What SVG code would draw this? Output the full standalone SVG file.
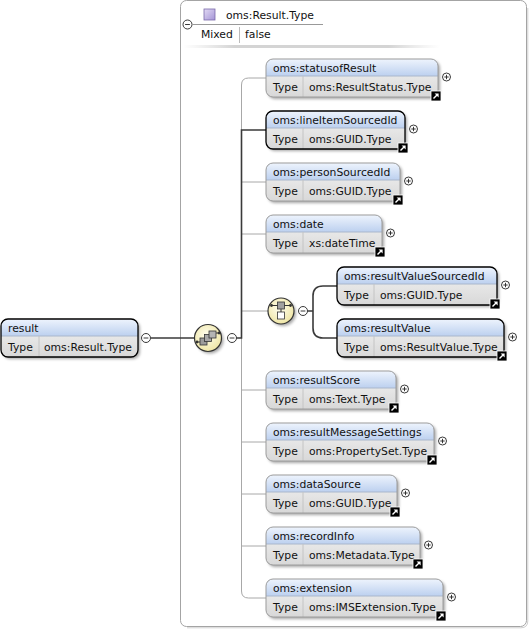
<svg xmlns="http://www.w3.org/2000/svg" xmlns:xlink="http://www.w3.org/1999/xlink" width="529" height="629" viewBox="0 0 529 629">
<style>
.t{font-family:"DejaVu Sans",Verdana,sans-serif;font-size:10.8px;fill:#111}
.body{fill:url(#gBody)}
.hdr{fill:url(#gHdr)}
.bo{fill:none;stroke:#9c9c9c;stroke-width:1}
.br{fill:none;stroke:#000;stroke-width:1.3}
.sep{stroke:#aab7cc;stroke-width:1}
.vsep{stroke:#c4c4c4;stroke-width:1}
.shd{fill:#000;opacity:.35;filter:url(#blur)}
.cg{fill:none;stroke:#a8a8a8;stroke-width:1}
.cd{fill:none;stroke:#3a3a3a;stroke-width:1.6}
.comp{fill:url(#gComp);stroke:#333;stroke-width:1.2}
</style>
<defs>
<linearGradient id="gBody" x1="0" y1="0" x2="0" y2="1"><stop offset="0" stop-color="#f4f4f4"/><stop offset="1" stop-color="#d8d8d8"/></linearGradient>
<linearGradient id="gHdr" x1="0" y1="0" x2="0" y2="1"><stop offset="0" stop-color="#eef4fd"/><stop offset="1" stop-color="#bcd0ef"/></linearGradient>
<radialGradient id="gComp" cx="0.45" cy="0.4" r="0.6"><stop offset="0" stop-color="#fffef0"/><stop offset="1" stop-color="#efe6a6"/></radialGradient>
<linearGradient id="gPur" x1="0" y1="0" x2="1" y2="1"><stop offset="0" stop-color="#e2daf4"/><stop offset="1" stop-color="#a494d6"/></linearGradient>
<linearGradient id="gBar" x1="0" y1="0" x2="1" y2="0"><stop offset="0" stop-color="#ddd" stop-opacity="0"/><stop offset="0.2" stop-color="#d4d4d4"/><stop offset="0.8" stop-color="#d4d4d4"/><stop offset="1" stop-color="#ddd" stop-opacity="0"/></linearGradient>
<filter id="blur" x="-10%" y="-20%" width="120%" height="140%"><feGaussianBlur stdDeviation="1.4"/></filter>
<g id="plus"><circle r="4" fill="#fff" stroke="#222" stroke-width="0.9"/><path d="M-2.2,0H2.2M0,-2.2V2.2" stroke="#222" stroke-width="0.9"/></g>
<g id="minus"><circle r="4.5" fill="#fff" stroke="#222" stroke-width="0.9"/><path d="M-2.4,0H2.4" stroke="#222" stroke-width="0.9"/></g>
<g id="icon"><rect x="0" y="0" width="10" height="10" fill="#000" stroke="#fff" stroke-width="0.8"/><path d="M2.5,7.5L6.5,3.5" stroke="#fff" stroke-width="1.4"/><polygon points="3.6,2.4 7.6,2.4 7.6,6.4" fill="#fff"/></g>
</defs>

<g id="typebox">
<rect x="180.5" y="0.5" width="346" height="626" rx="6" fill="#fff" stroke="#a4a4a4"/>
<path d="M527.8,8V621Q527.8,627.8 521,627.8H187" fill="none" stroke="#d0d0d0"/>
<rect x="204" y="9" width="11" height="11" fill="url(#gPur)" stroke="#7a6aaa" stroke-width="0.8"/>
<text class="t" x="226" y="19">oms:Result.Type</text>
<use xlink:href="#minus" x="187.5" y="24.5"/>
<path d="M192,24.5H323" stroke="#999"/>
<text class="t" x="201" y="38">Mixed</text>
<path d="M239.5,27V43" stroke="#bbb"/>
<text class="t" x="245" y="38">false</text>
<rect x="183" y="45" width="257" height="3" fill="url(#gBar)"/>
</g>

<g id="connectors">
<path class="cg" d="M266,78H248.5Q241.5,78 241.5,85V591Q241.5,598 248.5,598H266"/>
<path class="cg" d="M241.5,182H266M241.5,234H266M241.5,311H268M241.5,390H266M241.5,442H266M241.5,494H266M241.5,546H266"/>
<path class="cd" d="M151,338H194"/>
<path class="cd" d="M236.5,338H241.5V130H266"/>
<path class="cd" d="M307.5,311H313M337,286H323Q313,286 313,296V328Q313,338 323,338H337"/>
</g>

<g id="sequence">
<circle class="shd" cx="210" cy="340" r="13.5"/>
<circle class="comp" cx="208" cy="338" r="13.5"/>
<path d="M197,342H201M215,333H219" stroke="#333" stroke-width="1"/>
<circle cx="197" cy="342" r="1.4" fill="#333"/>
<circle cx="219" cy="333" r="1.4" fill="#333"/>
<rect x="200" y="338" width="7" height="7" fill="#9c9c9c" stroke="#333" stroke-width="0.8"/>
<rect x="204.5" y="334.5" width="7" height="7" fill="#a8a8a8" stroke="#333" stroke-width="0.8"/>
<rect x="209" y="331" width="7" height="7" fill="#b4b4b4" stroke="#333" stroke-width="0.8"/>
<use xlink:href="#minus" x="232" y="338"/>
</g>

<g id="choice">
<circle class="shd" cx="283" cy="313" r="13"/>
<circle class="comp" cx="281" cy="311" r="13"/>
<path d="M271.5,305.5H290.5M281,309V312" stroke="#333" stroke-width="1"/>
<circle cx="271.5" cy="305.5" r="1.4" fill="#333"/>
<circle cx="290.5" cy="305.5" r="1.4" fill="#333"/>
<rect x="277.5" y="302" width="7" height="7" fill="#a0a0a0" stroke="#333" stroke-width="0.8"/>
<rect x="277.5" y="312" width="7" height="7" fill="#fff" stroke="#333" stroke-width="0.8"/>
<use xlink:href="#minus" x="303" y="311"/>
</g>

<g id="result">
<rect class="shd" x="3" y="321" width="137" height="38" rx="7"/>
<rect class="body" x="1" y="319" width="137" height="38" rx="7"/>
<path class="hdr" d="M1,336V326Q1,319 8,319H131Q138,319 138,326V336Z"/>
<path class="sep" d="M1,336H138"/><path class="vsep" d="M39,336V357"/>
<rect class="br" x="1" y="319" width="137" height="38" rx="7"/>
<text class="t" x="8" y="332">result</text><text class="t" x="8" y="351">Type</text><text class="t" x="44" y="351">oms:Result.Type</text>
<use xlink:href="#minus" x="146" y="338"/>
</g>

<g id="statusofResult">
<rect class="shd" x="268" y="61" width="172" height="38" rx="7"/>
<rect class="body" x="266" y="59" width="172" height="38" rx="7"/>
<path class="hdr" d="M266,76V66Q266,59 273,59H431Q438,59 438,66V76Z"/>
<path class="sep" d="M266,76H438"/><path class="vsep" d="M303,76V97"/>
<rect class="bo" x="266" y="59" width="172" height="38" rx="7"/>
<text class="t" x="273" y="72">oms:statusofResult</text><text class="t" x="273" y="91">Type</text><text class="t" x="309" y="91">oms:ResultStatus.Type</text>
<use xlink:href="#icon" x="431" y="91"/><use xlink:href="#plus" x="446.5" y="77"/>
</g>

<g id="lineItemSourcedId">
<rect class="shd" x="268" y="113" width="139" height="38" rx="7"/>
<rect class="body" x="266" y="111" width="139" height="38" rx="7"/>
<path class="hdr" d="M266,128V118Q266,111 273,111H398Q405,111 405,118V128Z"/>
<path class="sep" d="M266,128H405"/><path class="vsep" d="M303,128V149"/>
<rect class="br" x="266" y="111" width="139" height="38" rx="7"/>
<text class="t" x="273" y="124">oms:lineItemSourcedId</text><text class="t" x="273" y="143">Type</text><text class="t" x="309" y="143">oms:GUID.Type</text>
<use xlink:href="#icon" x="398" y="143"/><use xlink:href="#plus" x="413.5" y="129"/>
</g>

<g id="personSourcedId">
<rect class="shd" x="268" y="165" width="134" height="38" rx="7"/>
<rect class="body" x="266" y="163" width="134" height="38" rx="7"/>
<path class="hdr" d="M266,180V170Q266,163 273,163H393Q400,163 400,170V180Z"/>
<path class="sep" d="M266,180H400"/><path class="vsep" d="M303,180V201"/>
<rect class="bo" x="266" y="163" width="134" height="38" rx="7"/>
<text class="t" x="273" y="176">oms:personSourcedId</text><text class="t" x="273" y="195">Type</text><text class="t" x="309" y="195">oms:GUID.Type</text>
<use xlink:href="#icon" x="393" y="195"/><use xlink:href="#plus" x="408.5" y="181"/>
</g>

<g id="date">
<rect class="shd" x="268" y="217" width="116" height="38" rx="7"/>
<rect class="body" x="266" y="215" width="116" height="38" rx="7"/>
<path class="hdr" d="M266,232V222Q266,215 273,215H375Q382,215 382,222V232Z"/>
<path class="sep" d="M266,232H382"/><path class="vsep" d="M303,232V253"/>
<rect class="bo" x="266" y="215" width="116" height="38" rx="7"/>
<text class="t" x="273" y="228">oms:date</text><text class="t" x="273" y="247">Type</text><text class="t" x="309" y="247">xs:dateTime</text>
<use xlink:href="#icon" x="375" y="247"/><use xlink:href="#plus" x="390.5" y="233"/>
</g>

<g id="resultValueSourcedId">
<rect class="shd" x="339" y="269" width="160" height="38" rx="7"/>
<rect class="body" x="337" y="267" width="160" height="38" rx="7"/>
<path class="hdr" d="M337,284V274Q337,267 344,267H490Q497,267 497,274V284Z"/>
<path class="sep" d="M337,284H497"/><path class="vsep" d="M374,284V305"/>
<rect class="br" x="337" y="267" width="160" height="38" rx="7"/>
<text class="t" x="344" y="280">oms:resultValueSourcedId</text><text class="t" x="344" y="299">Type</text><text class="t" x="380" y="299">oms:GUID.Type</text>
<use xlink:href="#icon" x="490" y="299"/><use xlink:href="#plus" x="505.5" y="285"/>
</g>

<g id="resultValue">
<rect class="shd" x="339" y="321" width="167" height="38" rx="7"/>
<rect class="body" x="337" y="319" width="167" height="38" rx="7"/>
<path class="hdr" d="M337,336V326Q337,319 344,319H497Q504,319 504,326V336Z"/>
<path class="sep" d="M337,336H504"/><path class="vsep" d="M374,336V357"/>
<rect class="br" x="337" y="319" width="167" height="38" rx="7"/>
<text class="t" x="344" y="332">oms:resultValue</text><text class="t" x="344" y="351">Type</text><text class="t" x="380" y="351">oms:ResultValue.Type</text>
<use xlink:href="#icon" x="497" y="351"/><use xlink:href="#plus" x="512.5" y="337"/>
</g>

<g id="resultScore">
<rect class="shd" x="268" y="373" width="130" height="38" rx="7"/>
<rect class="body" x="266" y="371" width="130" height="38" rx="7"/>
<path class="hdr" d="M266,388V378Q266,371 273,371H389Q396,371 396,378V388Z"/>
<path class="sep" d="M266,388H396"/><path class="vsep" d="M303,388V409"/>
<rect class="bo" x="266" y="371" width="130" height="38" rx="7"/>
<text class="t" x="273" y="384">oms:resultScore</text><text class="t" x="273" y="403">Type</text><text class="t" x="309" y="403">oms:Text.Type</text>
<use xlink:href="#icon" x="389" y="403"/><use xlink:href="#plus" x="404.5" y="389"/>
</g>

<g id="resultMessageSettings">
<rect class="shd" x="268" y="425" width="168" height="38" rx="7"/>
<rect class="body" x="266" y="423" width="168" height="38" rx="7"/>
<path class="hdr" d="M266,440V430Q266,423 273,423H427Q434,423 434,430V440Z"/>
<path class="sep" d="M266,440H434"/><path class="vsep" d="M303,440V461"/>
<rect class="bo" x="266" y="423" width="168" height="38" rx="7"/>
<text class="t" x="273" y="436">oms:resultMessageSettings</text><text class="t" x="273" y="455">Type</text><text class="t" x="309" y="455">oms:PropertySet.Type</text>
<use xlink:href="#icon" x="427" y="455"/><use xlink:href="#plus" x="442.5" y="441"/>
</g>

<g id="dataSource">
<rect class="shd" x="268" y="477" width="131" height="38" rx="7"/>
<rect class="body" x="266" y="475" width="131" height="38" rx="7"/>
<path class="hdr" d="M266,492V482Q266,475 273,475H390Q397,475 397,482V492Z"/>
<path class="sep" d="M266,492H397"/><path class="vsep" d="M303,492V513"/>
<rect class="bo" x="266" y="475" width="131" height="38" rx="7"/>
<text class="t" x="273" y="488">oms:dataSource</text><text class="t" x="273" y="507">Type</text><text class="t" x="309" y="507">oms:GUID.Type</text>
<use xlink:href="#icon" x="390" y="507"/><use xlink:href="#plus" x="405.5" y="493"/>
</g>

<g id="recordInfo">
<rect class="shd" x="268" y="529" width="154" height="38" rx="7"/>
<rect class="body" x="266" y="527" width="154" height="38" rx="7"/>
<path class="hdr" d="M266,544V534Q266,527 273,527H413Q420,527 420,534V544Z"/>
<path class="sep" d="M266,544H420"/><path class="vsep" d="M303,544V565"/>
<rect class="bo" x="266" y="527" width="154" height="38" rx="7"/>
<text class="t" x="273" y="540">oms:recordInfo</text><text class="t" x="273" y="559">Type</text><text class="t" x="309" y="559">oms:Metadata.Type</text>
<use xlink:href="#icon" x="413" y="559"/><use xlink:href="#plus" x="428.5" y="545"/>
</g>

<g id="extension">
<rect class="shd" x="268" y="581" width="177" height="38" rx="7"/>
<rect class="body" x="266" y="579" width="177" height="38" rx="7"/>
<path class="hdr" d="M266,596V586Q266,579 273,579H436Q443,579 443,586V596Z"/>
<path class="sep" d="M266,596H443"/><path class="vsep" d="M303,596V617"/>
<rect class="bo" x="266" y="579" width="177" height="38" rx="7"/>
<text class="t" x="273" y="592">oms:extension</text><text class="t" x="273" y="611">Type</text><text class="t" x="309" y="611">oms:IMSExtension.Type</text>
<use xlink:href="#icon" x="436" y="611"/><use xlink:href="#plus" x="451.5" y="597"/>
</g>
</svg>
